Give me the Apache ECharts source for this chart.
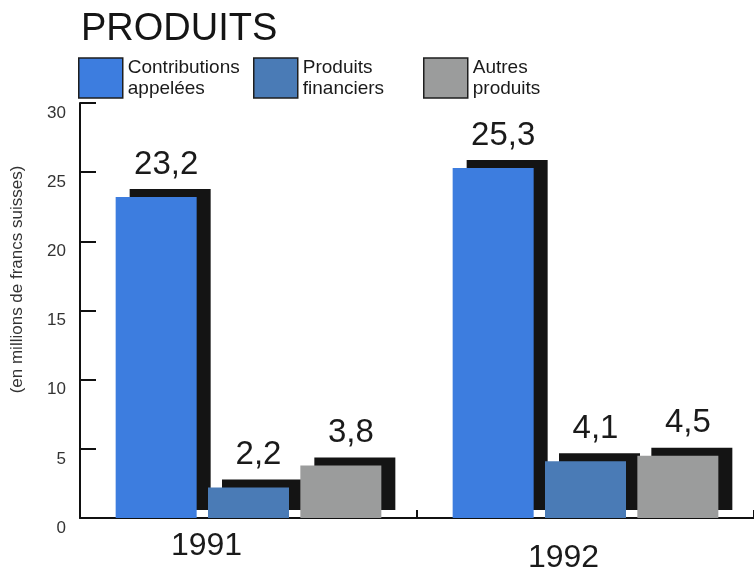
<!DOCTYPE html>
<html>
<head>
<meta charset="utf-8">
<script src="https://cdn.jsdelivr.net/npm/echarts@6/dist/echarts.min.js"></script>
<style>
  html, body { margin: 0; padding: 0; background: #fff; }
  #myChart { width: 754px; height: 574px; }
</style>
</head>
<body>
<div id="myChart"></div>
<script>
// données (en millions de francs suisses)
var years = ['1991', '1992']
var seriesNames = ['Contributions\nappelées', 'Produits\nfinanciers', 'Autres\nproduits']
var contributions = [23.2, 25.3]
var produitsFinanciers = [2.2, 4.1]
var autresProduits = [3.8, 4.5]
var yMin = 0, yMax = 30, yStep = 5

var colors = ['#3d7ddf', '#4a7bb6', '#9b9c9c']
var font = 'Liberation Sans, Arial, sans-serif'

// barre avec ombre noire décalée
function makeBar(name, data, color) {
  return {
    name: name,
    type: 'bar',
    data: data,
    barWidth: 81,
    barGap: '14%',
    itemStyle: {
      color: color,
      borderWidth: 0,
      shadowColor: '#141414',
      shadowBlur: 0,
      shadowOffsetX: 14,
      shadowOffsetY: -8
    },
    label: {
      show: true,
      position: 'top',
      distance: 16,
      offset: [10, 0],
      fontFamily: font,
      fontSize: 33,
      color: '#1a1a1a',
      formatter: function (p) { return String(p.value).replace('.', ',') }
    },
    emphasis: { disabled: true }
  }
}

function makeLegend(name, left) {
  return {
    data: [name],
    icon: 'rect',
    left: left,
    top: 57,
    padding: 0,
    itemWidth: 44,
    itemHeight: 40,
    selectedMode: false,
    itemStyle: { borderColor: '#1e1e1e', borderWidth: 1.5 },
    textStyle: { fontFamily: font, fontSize: 19, lineHeight: 21, color: '#1a1a1a' }
  }
}

var myChart = echarts.init(document.getElementById('myChart'))
myChart.setOption({
  animation: false,
  title: {
    text: 'PRODUITS',
    left: 76,
    top: 6,
    textStyle: { fontFamily: font, fontSize: 38, fontWeight: 'normal', color: '#151515' }
  },
  legend: [
    makeLegend(seriesNames[0], 78),
    makeLegend(seriesNames[1], 253),
    makeLegend(seriesNames[2], 423)
  ],
  grid: { left: 80, right: 0, top: 103, bottom: 56 },
  xAxis: {
    type: 'category',
    data: years,
    axisLine: { lineStyle: { color: '#111', width: 2 } },
    axisTick: { show: true, inside: true, length: 8, lineStyle: { color: '#111', width: 2 } },
    axisLabel: {
      margin: 12,
      fontFamily: font,
      fontSize: 32,
      color: '#1a1a1a',
      formatter: function (v) { return '{y' + v + '|' + v + '}' },
      rich: {
        y1991: { fontFamily: font, fontSize: 32, color: '#1a1a1a', padding: [0, 84, 0, 0] },
        y1992: { fontFamily: font, fontSize: 32, color: '#1a1a1a', padding: [12, 44, 0, 0] }
      }
    }
  },
  yAxis: {
    type: 'value',
    min: yMin,
    max: yMax,
    interval: yStep,
    name: '(en millions de francs suisses)',
    nameLocation: 'middle',
    nameGap: 54,
    nameTextStyle: { fontFamily: font, fontSize: 17, color: '#333', padding: [0, 0, 0, 62] },
    splitLine: { show: false },
    axisLine: { show: true, lineStyle: { color: '#111', width: 2 } },
    axisTick: { show: true, inside: true, length: 16, lineStyle: { color: '#111', width: 2 } },
    axisLabel: { margin: 14, fontFamily: font, fontSize: 17, lineHeight: 20, color: '#333', verticalAlign: 'top' }
  },
  series: [
    makeBar(seriesNames[0], contributions, colors[0]),
    makeBar(seriesNames[1], produitsFinanciers, colors[1]),
    makeBar(seriesNames[2], autresProduits, colors[2])
  ]
})
</script>
</body>
</html>
